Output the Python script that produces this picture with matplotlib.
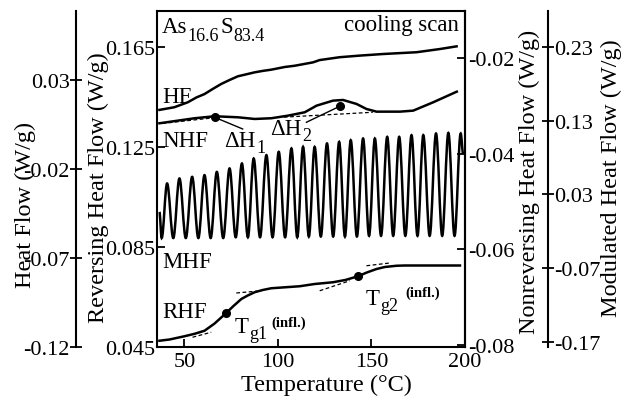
import matplotlib
matplotlib.use('Agg')
import matplotlib.pyplot as plt
from matplotlib.path import Path
from matplotlib.patches import PathPatch

plt.rcParams['font.family'] = ['Liberation Serif', 'DejaVu Serif']
plt.rcParams['mathtext.fontset'] = 'stix'

W, H, DPI = 628, 402, 100

# --- données ---
# HF (Heat Flow, axe extérieur gauche)
hf_t = [36.6, 44.6, 51.8, 56.4, 60.7, 65.0, 69.7, 74.1, 78.6, 82.7, 87.5, 91.8, 96.4, 103.6, 108.9, 118.7,
        122.3, 133.0, 143.7, 156.2, 174.1, 186.6, 195.5]
hf_v = [0.0132, 0.0147, 0.0175, 0.0202, 0.0221, 0.0249, 0.0278, 0.0300, 0.0321, 0.0331, 0.0343, 0.0351, 0.0358,
        0.0373, 0.0380, 0.0399, 0.0412, 0.0428, 0.0437, 0.0446, 0.0456, 0.0474, 0.0489]

# NHF (Nonreversing, axe intérieur droit)
nhf_t = [36.6, 55.4, 66.1, 78.6, 87.5, 96.4, 105.3, 114.3, 120.6, 129.4, 134.8, 142.0, 147.3, 152.7, 165.2, 172.3, 183.0, 195.6]
nhf_v = [-0.03365, -0.0326, -0.03218, -0.0324, -0.03275, -0.0326, -0.03206, -0.03135, -0.02997, -0.02892,
         -0.02878, -0.02961, -0.03066, -0.03122, -0.03122, -0.03101, -0.02926, -0.02704]
nhf_dot_t = [66.1, 133.0]
nhf_dot_v = [-0.0324, -0.0301]
dh1_base_t = [38.2, 64.5]
dh1_base_v = [-0.03369, -0.03255]
dh2_base_t = [99.8, 150.7]
dh2_base_v = [-0.03244, -0.03135]
dh1_ptr_t = [66.1, 81.1]
dh1_ptr_v = [-0.0324, -0.03484]
dh2_ptr_t = [115.2, 133.0]
dh2_ptr_v = [-0.03344, -0.0301]

# MHF (Modulated, axe extérieur droit) : extrema de l'oscillation
mhf_start = (36.6, 0.0063)
mhf_end = (199.0, 0.085)
mhf_trough_t = [37.8, 44.0, 50.7, 57.4, 64.0, 70.7, 77.4, 83.9, 90.4, 97.1, 103.8, 110.3, 116.5,
                122.9, 129.5, 135.8, 142.2, 148.7, 155.1, 161.6, 168.1, 174.6, 181.1, 187.8, 194.4]
mhf_trough_v = [-0.029, -0.029, -0.029, -0.029, -0.029, -0.029, -0.028, -0.028, -0.028, -0.028, -0.028, -0.028, -0.027,
                -0.027, -0.027, -0.027, -0.027, -0.026, -0.026, -0.026, -0.026, -0.026, -0.026, -0.026, -0.026]
mhf_peak_t = [40.7, 47.3, 54.1, 60.7, 67.3, 74.1, 80.7, 87.0, 93.8, 100.4, 107.2, 113.4, 119.6,
              126.2, 132.7, 138.9, 145.5, 151.8, 158.4, 164.8, 171.4, 177.7, 184.5, 191.1, 197.7]
mhf_peak_v = [0.0449, 0.0517, 0.0539, 0.0562, 0.0606, 0.0653, 0.0720, 0.0788, 0.0833, 0.0878, 0.0924, 0.0945, 0.0945,
              0.0992, 0.1013, 0.1036, 0.1059, 0.1059, 0.1081, 0.1081, 0.1104, 0.1104, 0.1127, 0.1135, 0.1127]

# RHF (Reversing, axe intérieur gauche)
rhf_t = [36.6, 42.0, 50.0, 55.5, 60.7, 66.1, 72.3, 76.2, 80.4, 83.8, 87.5, 91.8, 96.4, 111.6, 119.6, 129.4,
         136.0, 142.8, 147.5, 152.7, 157.1, 163.4, 167.8, 197.3]
rhf_v = [0.0475, 0.0480, 0.0493, 0.0503, 0.0515, 0.0544, 0.0586, 0.0614, 0.0642, 0.0656, 0.0669, 0.0678, 0.0685,
         0.0693, 0.0702, 0.0709, 0.0718, 0.0733, 0.0748, 0.0762, 0.0770, 0.0775, 0.0776, 0.0776]
rhf_dot_t = [72.3, 142.8]
rhf_dot_v = [0.0586, 0.0733]
tangents = [
    ([54.3, 64.3], [0.0489, 0.0509]),
    ([77.7, 91.1], [0.0666, 0.0675]),
    ([122.3, 138.4], [0.0675, 0.0715]),
    ([147.3, 159.8], [0.0775, 0.0786]),
]

temp_ticks = [50, 100, 150, 200]
rhf_ticks = [0.045, 0.085, 0.125, 0.165]
nhf_ticks = [-0.08, -0.06, -0.04, -0.02]
hf_ticks = [-0.12, -0.07, -0.02, 0.03]
mhf_ticks = [-0.17, -0.07, 0.03, 0.13, 0.23]


def wave_path(ts, vs, k=0.36):
    """Chemin de Bézier passant par les extrema (tangentes horizontales)."""
    verts = [(ts[0], vs[0])]
    codes = [Path.MOVETO]
    for i in range(1, len(ts)):
        dt = ts[i] - ts[i - 1]
        verts += [(ts[i - 1] + k * dt, vs[i - 1]), (ts[i] - k * dt, vs[i]), (ts[i], vs[i])]
        codes += [Path.CURVE4] * 3
    return Path(verts, codes)


fig = plt.figure(figsize=(W / DPI, H / DPI), dpi=DPI)
ax = fig.add_axes([157 / W, 1 - 348 / H, (465 - 157) / W, (348 - 12) / H])
ax_n = ax.twinx()
ax_h = ax.twinx()
ax_m = ax.twinx()

LW = 1.8
FS_TICK = 16
FS_TXT = 16.5
FS_SUB = 13
FS_LAB = 17.5

# axe principal : RHF
ax.set_xlim(35.3, 200)
ax.set_ylim(0.045, 0.1794)
ax.plot(rhf_t, rhf_v, color='black', lw=LW, solid_joinstyle='round')
for tt, vv in tangents:
    ax.plot(tt, vv, color='black', lw=0.9, ls=(0, (3, 2)))
ax.plot(rhf_dot_t, rhf_dot_v, 'o', color='black', ms=5.5)
ax.set_xticks(temp_ticks)
ax.set_xticklabels([str(t) for t in temp_ticks])
ax.set_yticks(rhf_ticks)
ax.set_yticklabels(['%g' % v for v in rhf_ticks])
ax.tick_params(axis='x', direction='in', length=6, width=1.3, pad=3.5, labelsize=FS_TICK)
ax.tick_params(axis='y', direction='in', length=6, width=1.3, pad=1.5, labelsize=FS_TICK)
for s in ax.spines.values():
    s.set_linewidth(1.5)

# NHF
ax_n.set_ylim(-0.08042, -0.01018)
ax_n.plot(nhf_t, nhf_v, color='black', lw=LW, solid_joinstyle='round')
ax_n.plot(dh1_base_t, dh1_base_v, color='black', lw=0.9, ls=(0, (3, 2)))
ax_n.plot(dh2_base_t, dh2_base_v, color='black', lw=0.9, ls=(0, (3, 2)))
ax_n.plot(dh1_ptr_t, dh1_ptr_v, color='black', lw=1.0)
ax_n.plot(dh2_ptr_t, dh2_ptr_v, color='black', lw=1.0)
ax_n.plot(nhf_dot_t, nhf_dot_v, 'o', color='black', ms=5.5)
ax_n.set_yticks(nhf_ticks)
ax_n.set_yticklabels(['%g' % v for v in nhf_ticks])
ax_n.tick_params(axis='y', direction='in', length=6, width=1.3, pad=2, labelsize=FS_TICK)
for k in ['top', 'bottom', 'left']:
    ax_n.spines[k].set_visible(False)
ax_n.spines['right'].set_linewidth(1.5)

# HF : axe extérieur gauche
ax_h.set_ylim(-0.12, 0.06876)
ax_h.plot(hf_t, hf_v, color='black', lw=LW, solid_joinstyle='round')
ax_h.yaxis.set_ticks_position('left')
ax_h.spines['left'].set_position(('outward', 81 * 72 / DPI))
ax_h.spines['left'].set_visible(True)
ax_h.spines['left'].set_linewidth(1.5)
for k in ['top', 'bottom', 'right']:
    ax_h.spines[k].set_visible(False)
ax_h.set_yticks(hf_ticks)
ax_h.set_yticklabels(['%g' % v for v in hf_ticks])
ax_h.tick_params(axis='y', direction='inout', length=8, width=1.3, pad=0.5, labelsize=FS_TICK)

# MHF : axe extérieur droit
ax_m.set_ylim(-0.1768, 0.2788)
mhf_t = [mhf_start[0]]
mhf_v = [mhf_start[1]]
for i in range(len(mhf_peak_t)):
    mhf_t += [mhf_trough_t[i], mhf_peak_t[i]]
    mhf_v += [mhf_trough_v[i], mhf_peak_v[i]]
mhf_t.append(mhf_end[0])
mhf_v.append(mhf_end[1])
ax_m.add_patch(PathPatch(wave_path(mhf_t, mhf_v), fill=False, lw=LW, edgecolor='black'))
ax_m.spines['right'].set_position(('outward', 83 * 72 / DPI))
ax_m.spines['right'].set_linewidth(1.5)
for k in ['top', 'bottom', 'left']:
    ax_m.spines[k].set_visible(False)
ax_m.set_yticks(mhf_ticks)
ax_m.set_yticklabels(['%g' % v for v in mhf_ticks])
ax_m.tick_params(axis='y', direction='inout', length=8, width=1.3, pad=0.5, labelsize=FS_TICK)


def fig_text(x, y, s, **kw):
    fig.text(x / W, 1 - y / H, s, **kw)


# titres des axes
fig_text(25, 205, 'Heat Flow (W/g)', rotation=90, ha='center', va='center', fontsize=FS_LAB)
fig_text(98, 188, 'Reversing Heat Flow (W/g)', rotation=90, ha='center', va='center', fontsize=FS_LAB)
fig_text(529, 182, 'Nonreversing Heat Flow (W/g)', rotation=90, ha='center', va='center', fontsize=FS_LAB)
fig_text(611, 178, 'Modulated Heat Flow (W/g)', rotation=90, ha='center', va='center', fontsize=FS_LAB)
fig_text(326, 391, 'Temperature (°C)', ha='center', va='baseline', fontsize=FS_LAB)

# annotations
fig_text(162, 33, 'As', ha='left', va='baseline', fontsize=FS_TXT)
fig_text(187, 41, '16.6', ha='left', va='baseline', fontsize=FS_SUB)
fig_text(220, 33, 'S', ha='left', va='baseline', fontsize=FS_TXT)
fig_text(233, 41, '83.4', ha='left', va='baseline', fontsize=FS_SUB)
fig_text(459, 31, 'cooling scan', ha='right', va='baseline', fontsize=FS_TXT)
fig_text(162, 103, 'HF', ha='left', va='baseline', fontsize=FS_TXT)
fig_text(162, 147, 'NHF', ha='left', va='baseline', fontsize=FS_TXT)
fig_text(224, 147, 'ΔH', ha='left', va='baseline', fontsize=FS_TXT)
fig_text(256, 153, '1', ha='left', va='baseline', fontsize=FS_SUB)
fig_text(270, 135, 'ΔH', ha='left', va='baseline', fontsize=FS_TXT)
fig_text(302, 141, '2', ha='left', va='baseline', fontsize=FS_SUB)
fig_text(162, 268, 'MHF', ha='left', va='baseline', fontsize=FS_TXT)
fig_text(162, 318, 'RHF', ha='left', va='baseline', fontsize=FS_TXT)
fig_text(235, 333, 'T', ha='left', va='baseline', fontsize=FS_TXT)
fig_text(249, 339, 'g1', ha='left', va='baseline', fontsize=FS_SUB)
fig_text(271, 327, '(infl.)', ha='left', va='baseline', fontsize=10.5, fontweight='bold')
fig_text(366, 305, 'T', ha='left', va='baseline', fontsize=FS_TXT)
fig_text(380, 311, 'g2', ha='left', va='baseline', fontsize=FS_SUB)
fig_text(405, 297, '(infl.)', ha='left', va='baseline', fontsize=10.5, fontweight='bold')

fig.savefig('out.png', dpi=DPI)
